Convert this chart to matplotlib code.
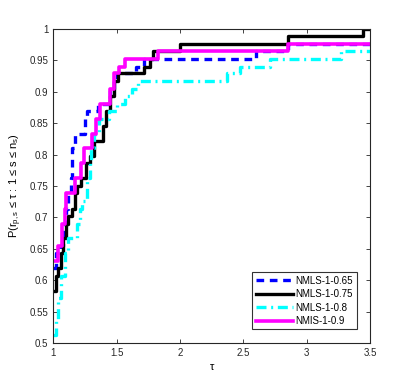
import matplotlib
matplotlib.use('Agg')
import matplotlib.pyplot as plt
from matplotlib.ticker import FormatStrFormatter, MultipleLocator

plt.rcParams['font.family'] = ['Liberation Sans', 'DejaVu Sans']

# step breakpoints (tau) and profile values P
tau_065 = [1.00, 1.02, 1.05, 1.08, 1.10, 1.12, 1.14, 1.15, 1.17, 1.25, 1.27, 1.35, 1.45, 1.48, 1.50, 1.65, 1.72, 2.60, 2.85, 3.50]
p_065 = [0.619, 0.643, 0.655, 0.690, 0.714, 0.738, 0.762, 0.810, 0.833, 0.857, 0.869, 0.881, 0.905, 0.917, 0.929, 0.940, 0.952, 0.964, 0.976, 0.976]

tau_075 = [1.00, 1.02, 1.04, 1.06, 1.08, 1.10, 1.12, 1.15, 1.17, 1.19, 1.22, 1.26, 1.29, 1.32, 1.39, 1.42, 1.45, 1.48, 1.51, 1.72, 1.76, 1.79, 2.00, 2.85, 3.44, 3.50]
p_075 = [0.583, 0.607, 0.619, 0.643, 0.667, 0.690, 0.702, 0.714, 0.738, 0.750, 0.762, 0.786, 0.798, 0.821, 0.845, 0.869, 0.893, 0.917, 0.929, 0.940, 0.952, 0.964, 0.976, 0.988, 1.000, 1.000]

tau_08 = [1.00, 1.02, 1.04, 1.06, 1.09, 1.12, 1.19, 1.21, 1.23, 1.27, 1.29, 1.30, 1.32, 1.36, 1.44, 1.50, 1.57, 1.62, 1.67, 2.37, 2.47, 2.71, 3.27, 3.50]
p_08 = [0.512, 0.536, 0.571, 0.607, 0.643, 0.667, 0.690, 0.714, 0.726, 0.762, 0.786, 0.810, 0.833, 0.857, 0.869, 0.881, 0.893, 0.905, 0.917, 0.929, 0.940, 0.952, 0.964, 0.964]

tau_09 = [1.00, 1.04, 1.07, 1.09, 1.10, 1.17, 1.22, 1.24, 1.31, 1.34, 1.37, 1.45, 1.48, 1.52, 1.57, 1.83, 2.85, 3.50]
p_09 = [0.631, 0.655, 0.690, 0.714, 0.738, 0.762, 0.786, 0.810, 0.833, 0.857, 0.881, 0.905, 0.929, 0.940, 0.952, 0.964, 0.976, 0.976]

fig = plt.figure(figsize=(4.09, 3.85), dpi=100)
ax = fig.add_axes([0.130, 0.109, 0.775, 0.816])

ax.step(tau_065, p_065, where='post', color='#0000ff', ls=(0, (2.3, 1.7)), lw=2.4, label='NMLS-1-0.65')
ax.step(tau_075, p_075, where='post', color='black', ls='-', lw=2.4, label='NMLS-1-0.75')
ax.step(tau_08, p_08, where='post', color='cyan', ls=(0, (3.0, 1.4, 0.6, 1.4)), lw=2.4, label='NMLS-1-0.8')
ax.step(tau_09, p_09, where='post', color='magenta', ls='-', lw=2.6, label='NMIS-1-0.9')

ax.set_xlim(1, 3.5)
ax.set_ylim(0.5, 1)
ax.xaxis.set_major_locator(MultipleLocator(0.5))
ax.yaxis.set_major_locator(MultipleLocator(0.05))
ax.xaxis.set_major_formatter(FormatStrFormatter('%g'))
ax.yaxis.set_major_formatter(FormatStrFormatter('%g'))
ax.tick_params(direction='in', top=True, right=True, labelsize=7, length=3, width=0.6, colors='#262626')
for s in ax.spines.values():
    s.set_linewidth(0.8)
    s.set_color('#262626')

ax.set_xlabel('τ', fontsize=8, labelpad=3)
ax.set_ylabel(r'P(r$_{\mathregular{p,s}}$ ≤ τ : 1 ≤ s ≤ n$_{\mathregular{s}}$)', fontsize=8, labelpad=4)

leg = ax.legend(loc='lower right', fontsize=7, fancybox=False, edgecolor='black',
                borderaxespad=1.4, handlelength=3.8, labelspacing=0.35, borderpad=0.35, handletextpad=0.3)
leg.get_frame().set_linewidth(0.8)

fig.savefig('out.png', dpi=100)
